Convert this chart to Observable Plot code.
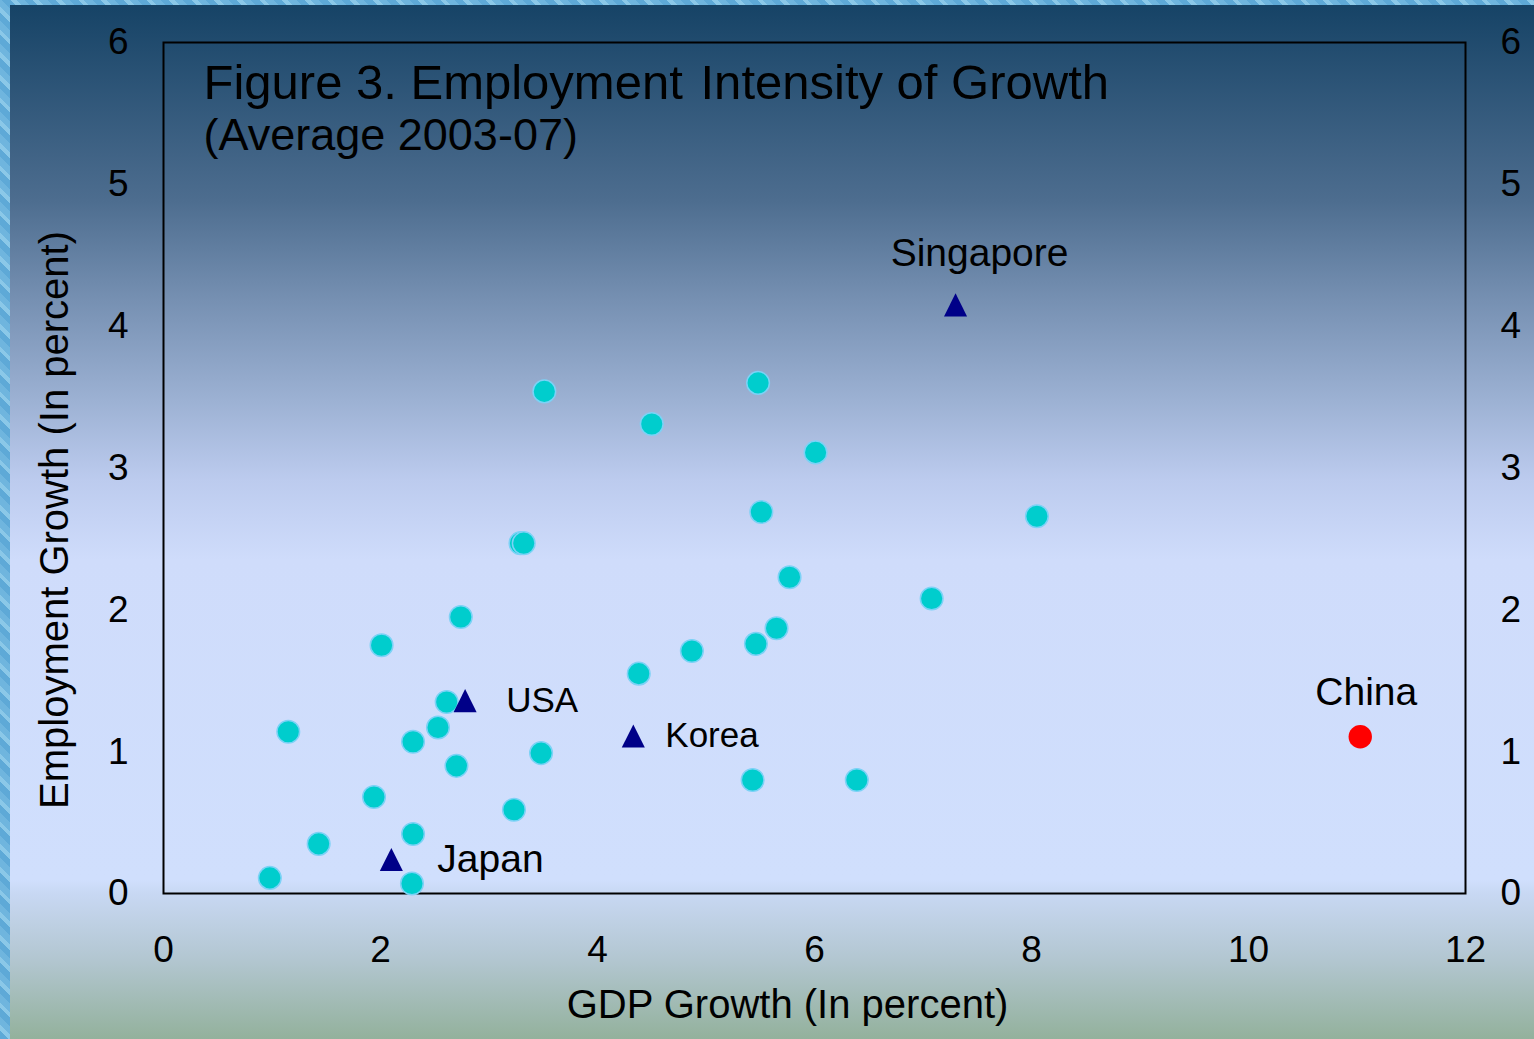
<!DOCTYPE html>
<html>
<head>
<meta charset="utf-8">
<script src="https://cdn.jsdelivr.net/npm/d3@7"></script>
<script src="https://cdn.jsdelivr.net/npm/@observablehq/plot@0.6"></script>
<style>
html, body { margin: 0; padding: 0; }
body {
  width: 1534px; height: 1039px; position: relative; overflow: hidden;
  background: repeating-linear-gradient(45deg, #5ea9d7 0px, #5ea9d7 6px, #8bc8e8 6px, #8bc8e8 10px, #6fb5de 10px, #6fb5de 16px);
}
#panel {
  position: absolute; left: 10px; top: 5px; right: 0; bottom: 0;
  background: linear-gradient(to bottom,
    #164366 0%,
    #4d6d8f 18.9%,
    #7690b2 28.5%,
    #9cb1d3 38.2%,
    #bccbee 45.9%,
    #cfdcfb 53.7%,
    #d0dffd 84.6%,
    #c8d8f3 85.9%,
    #b2c6d0 92.4%,
    #93b19c 100%);
}
#chart { position: absolute; left: 0; top: 0; }
</style>
</head>
<body>
<div id="panel"></div>
<div id="chart"></div>
<script>
// ---- Data ----
const otherGdp = [0.98, 1.15, 1.43, 1.94, 2.01, 2.29, 2.30, 2.30, 2.53, 2.61, 2.70, 2.74, 3.23, 3.29, 3.32, 3.48, 3.51, 4.38, 4.50, 4.87, 5.43, 5.46, 5.48, 5.51, 5.65, 5.77, 6.01, 6.39, 7.08, 8.05];
const otherEmp = [0.11, 1.14, 0.35, 0.68, 1.75, 0.07, 0.42, 1.07, 1.17, 1.35, 0.90, 1.95, 0.59, 2.47, 2.47, 0.99, 3.54, 1.55, 3.31, 1.71, 0.80, 1.76, 3.60, 2.69, 1.87, 2.23, 3.11, 0.80, 2.08, 2.66];

const countries = ["USA", "Japan", "Korea", "Singapore"];
const countryGdp = [2.78, 2.10, 4.33, 7.30];
const countryEmp = [1.36, 0.24, 1.11, 4.15];

const chinaName = ["China"];
const chinaGdp = [11.03];
const chinaEmp = [1.105];

const xTicks = [0, 2, 4, 6, 8, 10, 12];
const yTicks = [0, 1, 2, 3, 4, 5, 6];

const titleText = "Figure 3. Employment \u200AIntensity of Growth";
const subtitleText = "(Average 2003-07)";
const xLabel = "GDP Growth (In percent)";
const yLabel = "Employment Growth (In percent)";

// ---- Tables built from the arrays ----
const others = otherGdp.map((g, i) => ({gdp: g, emp: otherEmp[i]}));
const tri = countries.map((n, i) => ({name: n, gdp: countryGdp[i], emp: countryEmp[i]}));
const china = chinaName.map((n, i) => ({name: n, gdp: chinaGdp[i], emp: chinaEmp[i]}));
const pick = n => tri.filter(d => d.name === n);

// isosceles triangle, width = height, centred on its bounding box
const triangle = {
  draw(context, size) {
    const h = Math.sqrt(size);
    context.moveTo(0, -h / 2);
    context.lineTo(h / 2, h / 2);
    context.lineTo(-h / 2, h / 2);
    context.closePath();
  }
};

const font = "'Liberation Sans', Arial, Helvetica, sans-serif";

const plot = Plot.plot({
  width: 1534,
  height: 1039,
  marginLeft: 163,
  marginRight: 69,
  marginTop: 42,
  marginBottom: 146,
  style: {background: "transparent", fontFamily: font, color: "black"},
  x: {domain: [0, 12]},
  y: {domain: [0, 6]},
  marks: [
    Plot.frame({stroke: "black", strokeWidth: 2}),
    Plot.axisX({ticks: xTicks, tickFormat: "d", tickSize: 0, tickPadding: 42, fontSize: 37, label: null}),
    Plot.axisY({anchor: "left", ticks: yTicks, tickFormat: "d", tickSize: 0, tickPadding: 35, fontSize: 37, label: null}),
    Plot.axisY({anchor: "right", ticks: yTicks, tickFormat: "d", tickSize: 0, tickPadding: 35, fontSize: 37, label: null}),
    Plot.dot(others, {x: "gdp", y: "emp", r: 11.3, fill: "#00cdcd", stroke: "#7cd2f6", strokeWidth: 1.5}),
    Plot.dot(tri, {x: "gdp", y: "emp", r: 13, symbol: triangle, fill: "#000088", stroke: "none"}),
    Plot.dot(china, {x: "gdp", y: "emp", r: 11.7, fill: "#ff0000", stroke: "none"}),
    Plot.text(pick("USA"), {x: "gdp", y: "emp", text: "name", dx: 41, textAnchor: "start", lineAnchor: "middle", fontSize: 35, fill: "black"}),
    Plot.text(pick("Korea"), {x: "gdp", y: "emp", text: "name", dx: 32, textAnchor: "start", lineAnchor: "middle", fontSize: 35, fill: "black"}),
    Plot.text(pick("Japan"), {x: "gdp", y: "emp", text: "name", dx: 46, textAnchor: "start", lineAnchor: "middle", fontSize: 39, fill: "black"}),
    Plot.text(pick("Singapore"), {x: "gdp", y: "emp", text: "name", dx: 24, dy: -51, textAnchor: "middle", lineAnchor: "middle", fontSize: 39, fill: "black"}),
    Plot.text(china, {x: "gdp", y: "emp", text: "name", dx: 6, dy: -44, textAnchor: "middle", lineAnchor: "middle", fontSize: 39, fill: "black"}),
    Plot.text([titleText], {text: d => d, frameAnchor: "top-left", dx: 40, dy: 22, textAnchor: "start", lineAnchor: "top", fontSize: 49, fill: "black"}),
    Plot.text([subtitleText], {text: d => d, frameAnchor: "top-left", dx: 40, dy: 76, textAnchor: "start", lineAnchor: "top", fontSize: 45, fill: "black"}),
    Plot.text([xLabel], {text: d => d, frameAnchor: "bottom", dx: -27, dy: 96, textAnchor: "middle", lineAnchor: "top", fontSize: 40, fill: "black"}),
    Plot.text([yLabel], {text: d => d, frameAnchor: "left", rotate: -90, dx: -108, dy: 52, textAnchor: "middle", lineAnchor: "middle", fontSize: 40, fill: "black"})
  ]
});
document.getElementById("chart").appendChild(plot);
</script>
</body>
</html>
